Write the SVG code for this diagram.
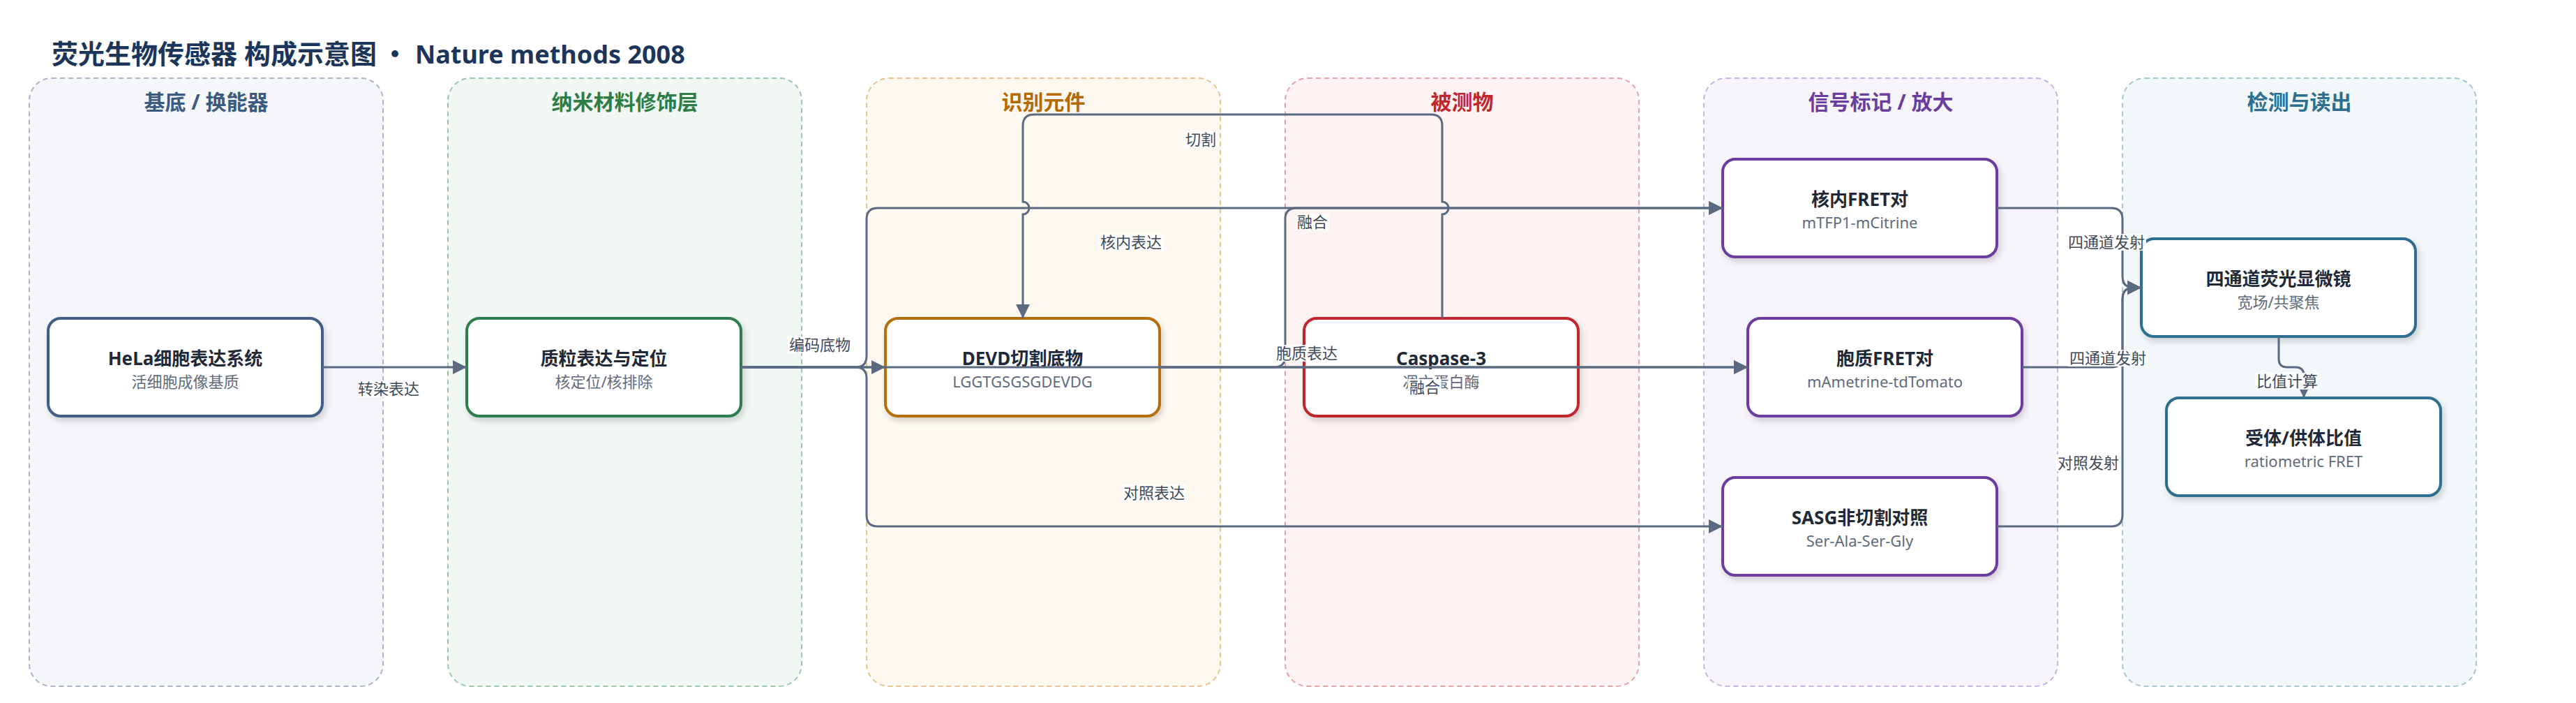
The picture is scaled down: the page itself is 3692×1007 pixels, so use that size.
<svg xmlns="http://www.w3.org/2000/svg" width="3692" height="1007" viewBox="0 0 3692 1007">
<defs>
<style>
.title{font-family:"Noto Sans","Noto Sans CJK SC",sans-serif;font-weight:700;font-size:38px;fill:#1b365a}
.lane rect{stroke-width:2;stroke-dasharray:7 5}
.lane text{font-family:"Noto Sans","Noto Sans CJK SC",sans-serif;font-weight:700;font-size:30px;text-anchor:middle}
.node rect{fill:#ffffff;stroke-width:4;filter:url(#sh)}
.node .t{font-family:"Noto Sans","Noto Sans CJK SC",sans-serif;font-weight:700;font-size:26px;fill:#1f2937;text-anchor:middle}
.node .s{font-family:"Noto Sans","Noto Sans CJK SC",sans-serif;font-size:22px;fill:#5f6b7a;text-anchor:middle}
.edge{fill:none;stroke:#5a6a80;stroke-width:3;marker-end:url(#arr)}
.lbl rect{fill:#ffffff;fill-opacity:0.92}
.lbl text{font-family:"Noto Sans","Noto Sans CJK SC",sans-serif;font-size:22px;fill:#3f4a58;text-anchor:middle}
</style>
<marker id="arr" markerUnits="userSpaceOnUse" markerWidth="20" markerHeight="20" refX="20" refY="10" orient="auto" viewBox="0 0 20 20"><path d="M0,0 L20,10 L0,20 z" fill="#5a6a80"/></marker>
<filter id="sh" x="-10%" y="-15%" width="125%" height="145%"><feDropShadow dx="3" dy="5" stdDeviation="4" flood-color="#000000" flood-opacity="0.16"/></filter>
</defs>
<rect width="3692" height="1007" fill="#ffffff"/>
<text class="title" x="74" y="91"><tspan>荧光生物传感器 构成示意图</tspan><tspan x="547" font-family="Noto Sans CJK SC, sans-serif">·</tspan><tspan x="595" font-size="36">Nature methods 2008</tspan></text>

<g id="lanes">
<g id="lane-substrate" class="lane"><rect x="42" y="112" width="507" height="871" rx="32" fill="#f4f6fa" stroke="#aab6c8"/><text x="295.5" y="157" fill="#3b5a80">基底 / 换能器</text></g>
<g id="lane-nano" class="lane"><rect x="642" y="112" width="507" height="871" rx="32" fill="#f1f8f3" stroke="#9acaa8"/><text x="895.5" y="157" fill="#2e7d46">纳米材料修饰层</text></g>
<g id="lane-recog" class="lane"><rect x="1242" y="112" width="507" height="871" rx="32" fill="#fef9f0" stroke="#e8c38c"/><text x="1495.5" y="157" fill="#b36b00">识别元件</text></g>
<g id="lane-analyte" class="lane"><rect x="1842" y="112" width="507" height="871" rx="32" fill="#fdf3f3" stroke="#e8a2a4"/><text x="2095.5" y="157" fill="#c0272d">被测物</text></g>
<g id="lane-signal" class="lane"><rect x="2442" y="112" width="507" height="871" rx="32" fill="#f7f4fb" stroke="#c8b3e2"/><text x="2695.5" y="157" fill="#6a3d9e">信号标记 / 放大</text></g>
<g id="lane-detect" class="lane"><rect x="3042" y="112" width="507" height="871" rx="32" fill="#f2f7f9" stroke="#a5c6d3"/><text x="3295.5" y="157" fill="#2e6e8e">检测与读出</text></g>
</g>

<g id="nodes">
<g id="node-hela" class="node"><rect x="69" y="456" width="393" height="140" rx="18" stroke="#3f5f87"/><text class="t" x="265.5" y="523">HeLa细胞表达系统</text><text class="s" x="265.5" y="555">活细胞成像基质</text></g>
<g id="node-plasmid" class="node"><rect x="669" y="456" width="393" height="140" rx="18" stroke="#2e7d4e"/><text class="t" x="865.5" y="523">质粒表达与定位</text><text class="s" x="865.5" y="555">核定位/核排除</text></g>
<g id="node-devd" class="node"><rect x="1269" y="456" width="393" height="140" rx="18" stroke="#b36f0a"/><text class="t" x="1465.5" y="523">DEVD切割底物</text><text class="s" x="1465.5" y="555">LGGTGSGSGDEVDG</text></g>
<g id="node-casp" class="node"><rect x="1869" y="456" width="393" height="140" rx="18" stroke="#c0272d"/><text class="t" x="2065.5" y="523">Caspase-3</text><text class="s" x="2065.5" y="555">凋亡蛋白酶</text></g>
<g id="node-nfret" class="node"><rect x="2469" y="228" width="393" height="140" rx="18" stroke="#6a3d9e"/><text class="t" x="2665.5" y="295">核内FRET对</text><text class="s" x="2665.5" y="327">mTFP1-mCitrine</text></g>
<g id="node-cfret" class="node"><rect x="2505" y="456" width="393" height="140" rx="18" stroke="#6a3d9e"/><text class="t" x="2701.5" y="523">胞质FRET对</text><text class="s" x="2701.5" y="555">mAmetrine-tdTomato</text></g>
<g id="node-sasg" class="node"><rect x="2469" y="684" width="393" height="140" rx="18" stroke="#6a3d9e"/><text class="t" x="2665.5" y="751">SASG非切割对照</text><text class="s" x="2665.5" y="783">Ser-Ala-Ser-Gly</text></g>
<g id="node-scope" class="node"><rect x="3069" y="342" width="393" height="140" rx="18" stroke="#2e6e8e"/><text class="t" x="3265.5" y="409">四通道荧光显微镜</text><text class="s" x="3265.5" y="441">宽场/共聚焦</text></g>
<g id="node-ratio" class="node"><rect x="3105" y="570" width="393" height="140" rx="18" stroke="#2e6e8e"/><text class="t" x="3301.5" y="637">受体/供体比值</text><text class="s" x="3301.5" y="669">ratiometric FRET</text></g>
</g>

<g id="connectors">
<path class="edge" d="M462,526 H669"/>
<path class="edge" d="M1062,526 H1269"/>
<path class="edge" d="M1062,526 H1226 Q1242,526 1242,510 V314 Q1242,298 1258,298 H2469"/>
<path class="edge" d="M1062,526 H2505"/>
<path class="edge" d="M1062,526 H1226 Q1242,526 1242,542 V738 Q1242,754 1258,754 H2469"/>
<path class="edge" d="M2067,456 V307 A9,9 0 0 0 2067,289 V180 Q2067,164 2051,164 H1482 Q1466,164 1466,180 V289 A9,9 0 0 1 1466,307 V456"/>
<path class="edge" d="M1662,526 H1826 Q1842,526 1842,510 V314 Q1842,298 1858,298 H2469"/>
<path class="edge" d="M1662,526 H2505"/>
<path class="edge" d="M2862,298 H3026 Q3042,298 3042,314 V396 Q3042,412 3058,412 H3069"/>
<path class="edge" d="M2898,526 H3026 Q3042,526 3042,510 V428 Q3042,412 3058,412 H3069"/>
<path class="edge" d="M2862,754 H3026 Q3042,754 3042,738 V428 Q3042,412 3058,412 H3069"/>
<path class="edge" d="M3266,482 V514 Q3266,526 3278,526 H3290 Q3302,526 3302,538 V570"/>
<g id="edge-labels">
<g class="lbl"><rect x="513" y="545" width="92" height="24"/><text x="557" y="565">转染表达</text></g>
<g class="lbl"><rect x="1129" y="482" width="92" height="24"/><text x="1175" y="502">编码底物</text></g>
<g class="lbl"><rect x="1697" y="188" width="48" height="24"/><text x="1721" y="208">切割</text></g>
<g class="lbl"><rect x="1575" y="335" width="92" height="24"/><text x="1621" y="355">核内表达</text></g>
<g class="lbl"><rect x="1857" y="306" width="48" height="24"/><text x="1881" y="326">融合</text></g>
<g class="lbl"><rect x="1827" y="494" width="92" height="24"/><text x="1873" y="514">胞质表达</text></g>
<g class="lbl"><rect x="2018" y="543" width="48" height="24"/><text x="2042" y="563">融合</text></g>
<g class="lbl"><rect x="1608" y="694" width="92" height="24"/><text x="1654" y="714">对照表达</text></g>
<g class="lbl"><rect x="2962" y="335" width="114" height="24"/><text x="3019" y="355">四通道发射</text></g>
<g class="lbl"><rect x="2964" y="501" width="114" height="24"/><text x="3021" y="521">四通道发射</text></g>
<g class="lbl"><rect x="2947" y="651" width="92" height="24"/><text x="2993" y="671">对照发射</text></g>
<g class="lbl"><rect x="3232" y="534" width="92" height="24"/><text x="3278" y="554">比值计算</text></g>
</g>
</g>
</svg>
